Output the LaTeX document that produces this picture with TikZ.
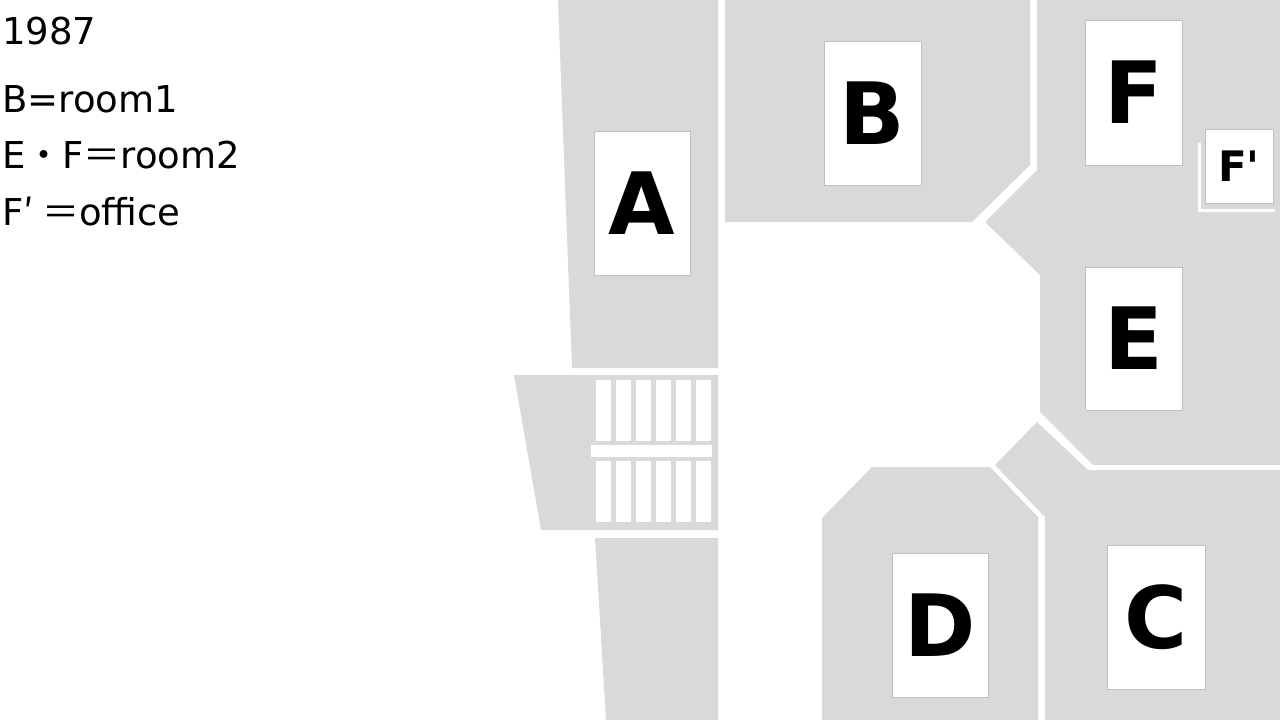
\documentclass[tikz,border=0pt]{standalone}
\usepackage{fontspec}
\setmainfont{DejaVu Sans}
\newfontfamily\cjk{Noto Sans CJK JP}
\newfontfamily\lbl{DejaVu Sans}
\begin{document}
\begin{tikzpicture}[x=1pt,y=-1pt,
  room/.style={fill=black!15,draw=none},
  card/.style={fill=white,draw=black!25,line width=0.6pt},
  big/.style={font=\lbl\bfseries\fontsize{86}{86}\selectfont},
  txt/.style={anchor=west,inner sep=0,font=\fontsize{37}{37}\selectfont},
  stair/.style={fill=white,draw=none}]
\useasboundingbox (0,0) rectangle (1280,720);
% rooms
\path[room] (558,0)--(718,0)--(718,368)--(572,368)--cycle;
\path[room] (514,375)--(718,375)--(718,530)--(541,530)--cycle;
\path[room] (595,538)--(718,538)--(718,720)--(606,720)--cycle;
\path[room] (725,0)--(1030,0)--(1030,165)--(972,222)--(725,222)--cycle;
\path[room] (1037,0)--(1280,0)--(1280,465)--(1093,465)--(1040,412)--(1040,275)--(985,222)--(1037,170)--cycle;
\path[room] (995,465)--(1037,422)--(1088,470)--(1280,470)--(1280,720)--(1045,720)--(1045,517)--cycle;
\path[room] (822,518)--(872,467)--(990,467)--(1038,517)--(1038,720)--(822,720)--cycle;
% stairs
\foreach \i in {0,...,5}{
  \path[stair] (596+\i*20,380) rectangle +(15,61);
  \path[stair] (596+\i*20,461) rectangle +(15,61);}
\path[stair] (591,445) rectangle (712,457);
% label cards
\node[card,minimum width=96,minimum height=144,big] (A) at (642,203) {A};
\node[card,minimum width=97,minimum height=144,big] (B) at (872.5,113) {B};
\node[card,minimum width=97,minimum height=145,big] (F) at (1133.5,92.5) {F};
\node[card,minimum width=97,minimum height=143,big] (E) at (1133.5,338.5) {E};
\node[card,minimum width=96,minimum height=144,big] (D) at (940,625) {D};
\node[card,minimum width=98,minimum height=144,big] (C) at (1156,617) {C};
\draw[white,line width=3pt] (1199,143)--(1199,210)--(1275,210);
\node[card,minimum width=68,minimum height=74,font=\lbl\bfseries\fontsize{42}{42}\selectfont] (Fp) at (1239,166) {F'};
% legend
\node[txt] (t1) at (2,31) {1987};
\node[txt] (t2) at (2,99) {B=room1};
\node[txt] (t3) at (2,155) {E{\cjk ・}F{\cjk ＝}room2};
\node[txt] (t4) at (2,211) {F{\cjk ′ ＝}office};
\end{tikzpicture}
\end{document}
